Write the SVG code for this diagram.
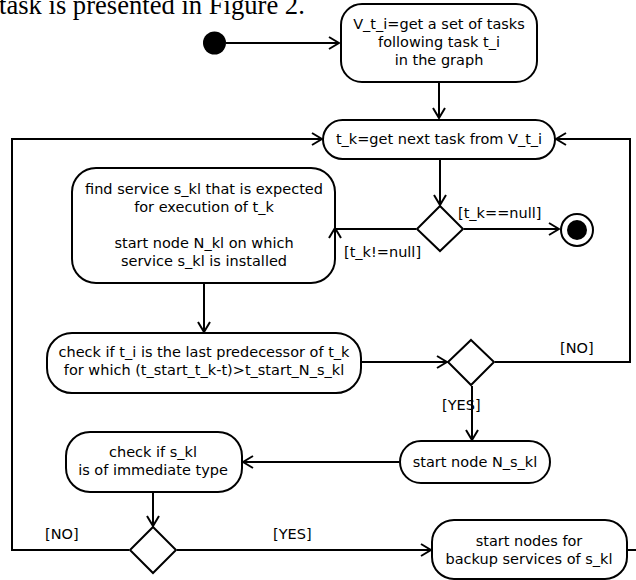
<svg xmlns="http://www.w3.org/2000/svg" width="636" height="580" viewBox="0 0 636 580">
<style>
.n{fill:#fff;stroke:#000;stroke-width:2}
.t{font-family:"DejaVu Sans",sans-serif;font-size:14.5px;fill:#000;text-anchor:middle}
.l{font-family:"DejaVu Sans",sans-serif;font-size:14.5px;fill:#000}
.c{fill:none;stroke:#000;stroke-width:2;marker-end:url(#a)}
.p{fill:none;stroke:#000;stroke-width:2}
</style>
<defs>
<marker id="a" viewBox="-11 -7 12 14" markerWidth="12" markerHeight="14" refX="0" refY="0" orient="auto" markerUnits="userSpaceOnUse">
<path d="M-10,-6 L0,0 L-10,6" fill="none" stroke="#000" stroke-width="2"/>
</marker>
</defs>
<rect width="636" height="580" fill="#fff"/>
<text x="-1" y="14" style="font-family:'Liberation Serif',serif;font-size:26.6px">task is presented in Figure 2.</text>
<g id="start"><circle cx="214.5" cy="43" r="11.5" fill="#000"/></g>
<g id="n1"><rect class="n" x="341" y="4" width="196" height="78" rx="21"/>
<text class="t" x="439" y="29">V_t_i=get a set of tasks</text>
<text class="t" x="439" y="47">following task t_i</text>
<text class="t" x="439" y="65">in the graph</text></g>
<g id="n2"><rect class="n" x="323" y="120" width="232" height="39" rx="19.5"/>
<text class="t" x="439" y="144">t_k=get next task from V_t_i</text></g>
<g id="d1"><path class="n" d="M440,206 L463,229 L440,251 L417,229 Z"/></g>
<g id="end"><circle cx="577" cy="230" r="16" fill="#fff" stroke="#000" stroke-width="2"/><circle cx="577" cy="230" r="10" fill="#000"/></g>
<g id="n3"><rect class="n" x="72" y="168" width="263" height="115" rx="24"/>
<text class="t" x="204" y="194">find service s_kl that is expected</text>
<text class="t" x="204" y="212">for execution of t_k</text>
<text class="t" x="204" y="248">start node N_kl on which</text>
<text class="t" x="204" y="266">service s_kl is installed</text></g>
<g id="n4"><rect class="n" x="47" y="333" width="314" height="60" rx="25"/>
<text class="t" x="204" y="357">check if t_i is the last predecessor of t_k</text>
<text class="t" x="204" y="375">for which (t_start_t_k-t)&gt;t_start_N_s_kl</text></g>
<g id="d2"><path class="n" d="M471,340 L494,362 L471,385 L448,362 Z"/></g>
<g id="n5"><rect class="n" x="400" y="441" width="150" height="42" rx="21"/>
<text class="t" x="475" y="467">start node N_s_kl</text></g>
<g id="n6"><rect class="n" x="66" y="432" width="176" height="60" rx="24"/>
<text class="t" x="153" y="457">check if s_kl</text>
<text class="t" x="153" y="475">is of immediate type</text></g>
<g id="d3"><path class="n" d="M153,527 L176,550 L153,573 L130,550 Z"/></g>
<g id="n7"><rect class="n" x="432" y="520" width="195" height="59" rx="22"/>
<text class="t" x="529" y="546">start nodes for</text>
<text class="t" x="529" y="564">backup services of s_kl</text></g>
<g id="labels">
<text class="l" x="458" y="218">[t_k==null]</text>
<text class="l" x="344" y="257">[t_k!=null]</text>
<text class="l" x="560" y="353">[NO]</text>
<text class="l" x="442" y="410">[YES]</text>
<text class="l" x="45" y="539">[NO]</text>
<text class="l" x="273" y="539">[YES]</text>
</g>
<g id="connectors">
<path class="c" d="M226,43 H339"/>
<path class="c" d="M439,83 V118"/>
<path class="c" d="M440,160 V205"/>
<path class="c" d="M416,229 H335 V228"/>
<path class="c" d="M464,229 H559"/>
<path class="c" d="M204,284 V332"/>
<path class="c" d="M362,362 H447"/>
<path class="c" d="M495,362 H630 V139 H556"/>
<path class="c" d="M472,386 V440"/>
<path class="c" d="M399,462 H243"/>
<path class="c" d="M153,493 V526"/>
<path class="c" d="M129,550 H12 V139 H322"/>
<path class="c" d="M177,550 H431"/>
<path class="p" d="M628,550 H636"/>
</g>
</svg>
